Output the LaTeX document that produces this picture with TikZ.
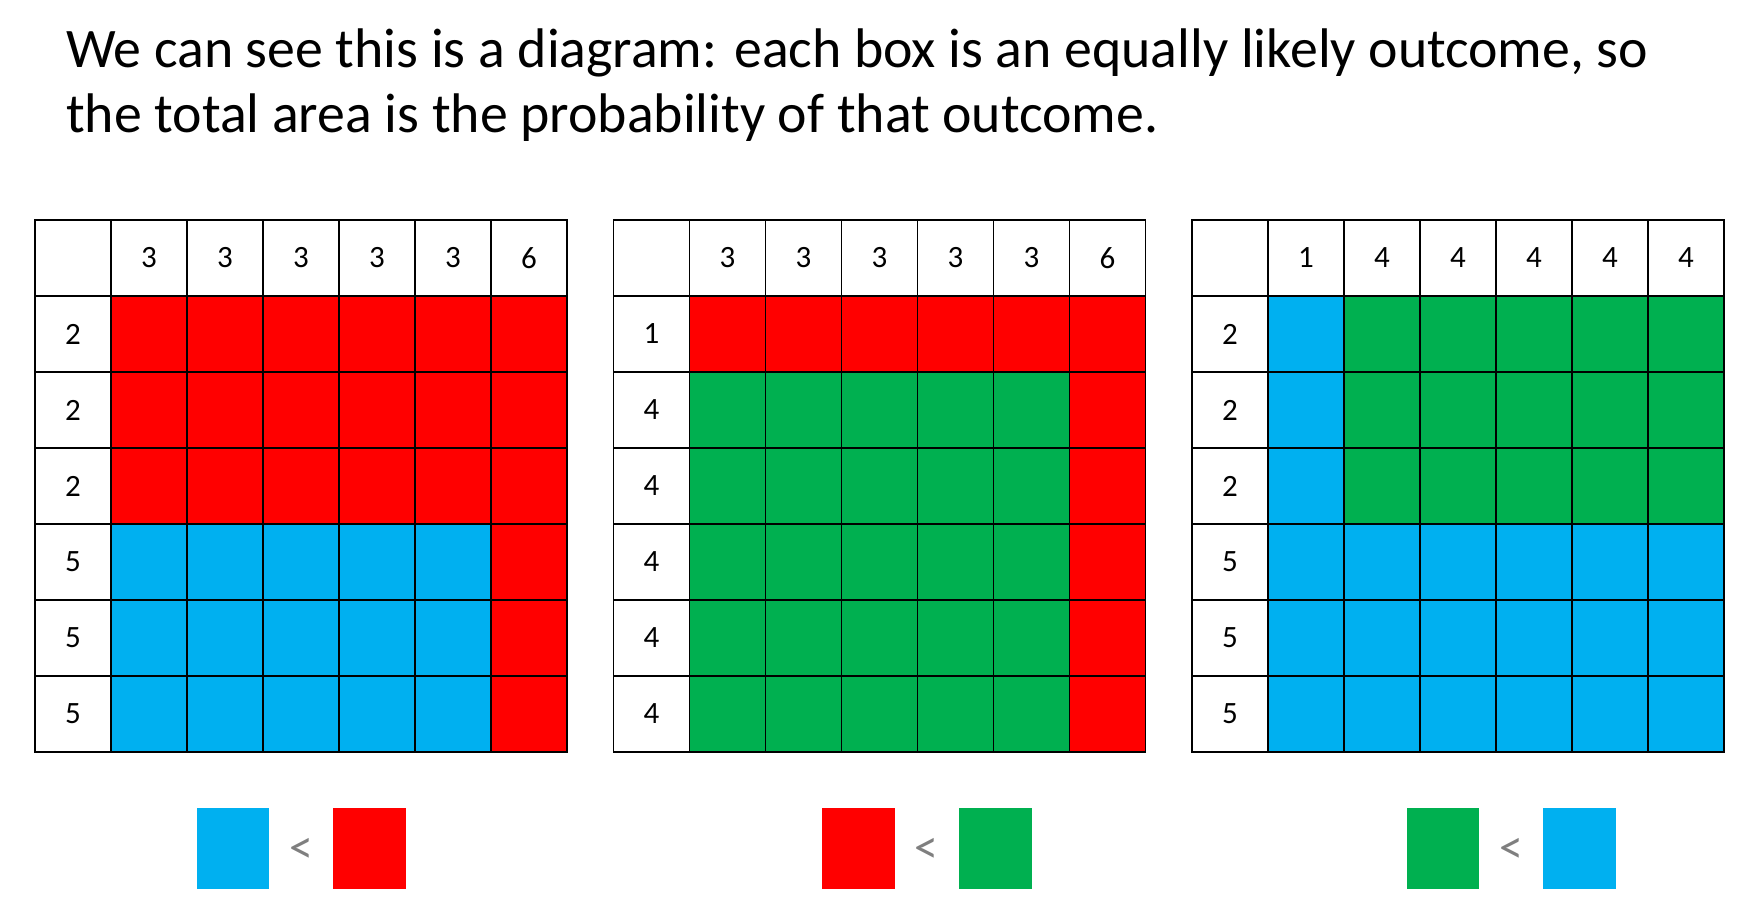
\documentclass[tikz,border=0pt]{standalone}
\usepackage{fontspec}
\setmainfont{Carlito}
\definecolor{R}{HTML}{FF0000}
\definecolor{B}{HTML}{00B0F0}
\definecolor{G}{HTML}{00B050}
\definecolor{W}{HTML}{FFFFFF}
\definecolor{lt}{HTML}{7F7F7F}
\tikzset{
  cell/.style={draw=black, line width=1.8pt, minimum width=76pt, minimum height=76pt, inner sep=0pt, outer sep=0pt, font=\fontsize{31}{31}\selectfont},
  sq/.style={minimum width=72.5pt, minimum height=80.7pt, inner sep=0pt},
  lt/.style={text=lt, font=\fontsize{48}{48}\selectfont, inner sep=0pt},
  title/.style={anchor=base west, inner sep=0pt, font=\fontsize{55.8}{55.8}\selectfont}
}
\begin{document}
\begin{tikzpicture}[x=1pt,y=-1pt]
\useasboundingbox (0,0) rectangle (1753,907);
\node[title] (t1) at (66,67) {We can see this is a diagram: each box is an equally likely outcome, so};
\node[title] (t2) at (66,132) {the total area is the probability of that outcome.};
% grid 1
\def\gx{35}
\node[cell] (a-0-0) at (\gx+38,258) {};
\foreach \c [count=\i] in {3,3,3,3,3,6} \node[cell] (a-0-\i) at (\gx+76*\i+38,258) {\c};
\foreach \r [count=\j] in {2,2,2,5,5,5} \node[cell] (a-\j-0) at (\gx+38,258+76*\j) {\r};
\foreach \row [count=\j] in {{R,R,R,R,R,R},{R,R,R,R,R,R},{R,R,R,R,R,R},{B,B,B,B,B,R},{B,B,B,B,B,R},{B,B,B,B,B,R}}
  \foreach \cl [count=\i] in \row \node[cell, fill=\cl] (a-\j-\i) at (\gx+76*\i+38,258+76*\j) {};
% grid 2
\def\gx{613.5}
\node[cell] (b-0-0) at (\gx+38,258) {};
\foreach \c [count=\i] in {3,3,3,3,3,6} \node[cell] (b-0-\i) at (\gx+76*\i+38,258) {\c};
\foreach \r [count=\j] in {1,4,4,4,4,4} \node[cell] (b-\j-0) at (\gx+38,258+76*\j) {\r};
\foreach \row [count=\j] in {{R,R,R,R,R,R},{G,G,G,G,G,R},{G,G,G,G,G,R},{G,G,G,G,G,R},{G,G,G,G,G,R},{G,G,G,G,G,R}}
  \foreach \cl [count=\i] in \row \node[cell, fill=\cl] (b-\j-\i) at (\gx+76*\i+38,258+76*\j) {};
% grid 3
\def\gx{1192}
\node[cell] (c-0-0) at (\gx+38,258) {};
\foreach \c [count=\i] in {1,4,4,4,4,4} \node[cell] (c-0-\i) at (\gx+76*\i+38,258) {\c};
\foreach \r [count=\j] in {2,2,2,5,5,5} \node[cell] (c-\j-0) at (\gx+38,258+76*\j) {\r};
\foreach \row [count=\j] in {{B,G,G,G,G,G},{B,G,G,G,G,G},{B,G,G,G,G,G},{B,B,B,B,B,B},{B,B,B,B,B,B},{B,B,B,B,B,B}}
  \foreach \cl [count=\i] in \row \node[cell, fill=\cl] (c-\j-\i) at (\gx+76*\i+38,258+76*\j) {};
% legends
\node[sq, fill=B] (l1a) at (233,848.7) {};
\node[lt] (l1c) at (301.7,850.7) {<};
\node[sq, fill=R] (l1b) at (369.6,848.7) {};
\node[sq, fill=R] (l2a) at (858.3,848.7) {};
\node[lt] (l2c) at (926.7,850.7) {<};
\node[sq, fill=G] (l2b) at (995.5,848.7) {};
\node[sq, fill=G] (l3a) at (1443,848.7) {};
\node[lt] (l3c) at (1511.7,850.7) {<};
\node[sq, fill=B] (l3b) at (1579.7,848.7) {};
\end{tikzpicture}
\end{document}
